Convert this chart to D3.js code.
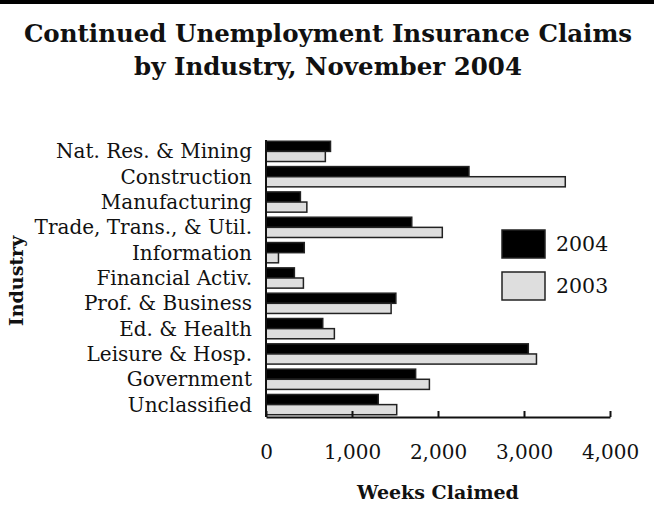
<html>
<head>
  <script src="https://d3js.org/d3.v7.min.js"></script>
  <style>
    body { margin: 0; background: white; }
    text { font-family: "DejaVu Serif", serif; fill: #111; }
    .title { font-size: 24.5px; font-weight: bold; }
    .cat { font-size: 20px; }
    .x.axis text { font-size: 20px; font-family: "DejaVu Serif", serif; fill: #111; }
    .x.axis .domain, .x.axis line { stroke: #111; stroke-width: 2px; }
    .y.axis .domain { stroke: #111; stroke-width: 2px; }
    .label { font-size: 19px; font-weight: bold; }
  </style>
</head>
<body>
  <svg id="chart" width="654" height="529"></svg>
  <script>
    // data
    const industries = ["Nat. Res. & Mining", "Construction", "Manufacturing", "Trade, Trans., & Util.",
      "Information", "Financial Activ.", "Prof. & Business", "Ed. & Health", "Leisure & Hosp.",
      "Government", "Unclassified"];
    const claims2004 = [750, 2360, 400, 1695, 445, 330, 1510, 660, 3050, 1740, 1305];
    const claims2003 = [690, 3480, 475, 2050, 145, 435, 1455, 795, 3145, 1900, 1520];
    const years = ["2004", "2003"];
    const xTicks = [0, 1000, 2000, 3000, 4000];

    const svg = d3.select("svg#chart");
    const width = +svg.attr("width");

    // top black rule
    svg.append("rect").attr("x", 0).attr("y", 0).attr("width", width).attr("height", 4).attr("fill", "#000");

    svg.append("text").attr("class", "title").attr("text-anchor", "middle")
      .attr("x", width / 2 + 1).attr("y", 42).text("Continued Unemployment Insurance Claims");
    svg.append("text").attr("class", "title").attr("text-anchor", "middle")
      .attr("x", width / 2 + 1).attr("y", 75).text("by Industry, November 2004");

    const xScale = d3.scaleLinear().domain([0, 4000]).range([266, 610]);
    const yScale = d3.scaleBand().domain(industries).range([140, 416]).paddingInner(0.2).paddingOuter(0.05);
    const inner = d3.scaleBand().domain(years).range([0, yScale.bandwidth()]);
    const colors = { "2004": "#000", "2003": "#dedede" };

    const rows = industries.map((name, i) => ({ name, "2004": claims2004[i], "2003": claims2003[i] }));

    const groups = svg.selectAll("g.row").data(rows).join("g").attr("class", "row")
      .attr("transform", d => `translate(0,${yScale(d.name)})`);

    groups.selectAll("rect").data(d => years.map(y => ({ year: y, value: d[y] })))
      .join("rect")
      .attr("x", xScale(0))
      .attr("y", d => inner(d.year))
      .attr("width", d => xScale(d.value) - xScale(0))
      .attr("height", inner.bandwidth())
      .attr("fill", d => colors[d.year])
      .attr("stroke", "#222")
      .attr("stroke-width", 1.5);

    // category labels
    svg.selectAll("text.cat").data(industries).join("text").attr("class", "cat")
      .attr("text-anchor", "end")
      .attr("x", 252)
      .attr("y", d => yScale(d) + yScale.bandwidth() / 2)
      .attr("dy", "0.35em")
      .text(d => d);

    svg.append("g").attr("class", "y axis")
      .attr("transform", `translate(${xScale(0)},0)`)
      .call(d3.axisLeft(yScale).tickSize(0).tickFormat(""))
      .select(".domain").attr("d", "M0,140V417");

    svg.append("g").attr("class", "x axis")
      .attr("transform", "translate(0,417)")
      .call(d3.axisBottom(xScale).tickValues(xTicks).tickSizeInner(-6).tickSizeOuter(0)
        .tickPadding(28).tickFormat(d3.format(",")));

    svg.append("text").attr("class", "label").attr("text-anchor", "middle")
      .attr("x", 438).attr("y", 499).text("Weeks Claimed");

    svg.append("text").attr("class", "label").attr("text-anchor", "middle")
      .attr("transform", "translate(23,281)rotate(-90)").text("Industry");

    // legend
    const legend = svg.append("g").attr("transform", "translate(502,230)");
    years.forEach((y, i) => {
      legend.append("rect").attr("x", 0).attr("y", i * 42).attr("width", 43).attr("height", 28)
        .attr("fill", colors[y]).attr("stroke", "#222").attr("stroke-width", 1.5);
      legend.append("text").attr("class", "cat").attr("x", 54).attr("y", i * 42 + 14)
        .attr("dy", "0.35em").style("font-size", "20.5px").text(y);
    });
  </script>
</body>
</html>
